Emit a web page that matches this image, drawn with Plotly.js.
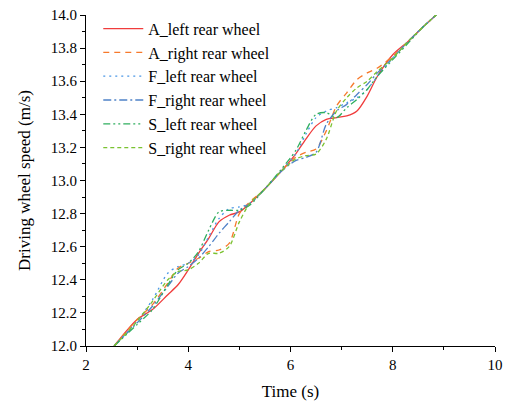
<!DOCTYPE html>
<html>
<head>
<meta charset="utf-8">
<script src="https://cdn.plot.ly/plotly-3.0.1.min.js"></script>
<style>html,body{margin:0;padding:0;background:#fff;}#chart{width:507px;height:404px;}</style>
</head>
<body>
<div id="chart"></div>
<script>
const time = [2.55, 3.0, 3.3, 3.6, 3.8, 4.0, 4.2, 4.4, 4.6, 4.8, 5.0, 5.2, 5.5, 5.8, 6.1, 6.3, 6.5, 6.7, 6.9, 7.1, 7.3, 7.5, 7.7, 8.0, 8.3, 8.6, 8.85];
const seriesNames = ["A_left rear wheel", "A_right rear wheel", "F_left rear wheel", "F_right rear wheel", "S_left rear wheel", "S_right rear wheel"];
const aLeft  = [12.00, 12.16, 12.22, 12.31, 12.37, 12.46, 12.56, 12.65, 12.75, 12.79, 12.81, 12.86, 12.95, 13.05, 13.16, 13.25, 13.33, 13.37, 13.38, 13.39, 13.42, 13.51, 13.63, 13.76, 13.84, 13.93, 14.00];
const aRight = [12.00, 12.16, 12.25, 12.38, 12.47, 12.50, 12.53, 12.57, 12.58, 12.62, 12.80, 12.87, 12.95, 13.05, 13.14, 13.17, 13.19, 13.30, 13.45, 13.53, 13.61, 13.65, 13.68, 13.75, 13.84, 13.93, 14.00];
const fLeft  = [12.00, 12.15, 12.28, 12.44, 12.48, 12.50, 12.55, 12.66, 12.77, 12.83, 12.84, 12.86, 12.95, 13.05, 13.16, 13.28, 13.38, 13.42, 13.44, 13.47, 13.50, 13.55, 13.63, 13.74, 13.84, 13.93, 14.00];
const fRight = [12.00, 12.14, 12.24, 12.36, 12.44, 12.48, 12.53, 12.60, 12.68, 12.75, 12.82, 12.86, 12.95, 13.05, 13.12, 13.14, 13.17, 13.34, 13.42, 13.46, 13.52, 13.58, 13.65, 13.74, 13.84, 13.93, 14.00];
const sLeft  = [12.00, 12.13, 12.22, 12.37, 12.46, 12.50, 12.57, 12.70, 12.81, 12.82, 12.82, 12.85, 12.95, 13.06, 13.18, 13.30, 13.40, 13.41, 13.38, 13.44, 13.49, 13.55, 13.63, 13.73, 13.83, 13.93, 14.00];
const sRight = [12.00, 12.15, 12.27, 12.40, 12.45, 12.46, 12.50, 12.56, 12.56, 12.60, 12.75, 12.86, 12.95, 13.05, 13.13, 13.15, 13.16, 13.25, 13.42, 13.50, 13.56, 13.60, 13.66, 13.74, 13.84, 13.93, 14.00];
const xTicks = [2, 4, 6, 8, 10];
const yTicks = [12.0, 12.2, 12.4, 12.6, 12.8, 13.0, 13.2, 13.4, 13.6, 13.8, 14.0];

const values = [aLeft, aRight, fLeft, fRight, sLeft, sRight];
const colors = ["#f03c3c", "#f7792b", "#4a97e6", "#4f82c8", "#2fae5e", "#7ac231"];
const dashes = ["solid", "6px,5px", "2px,4px", "8px,3px,2px,3px", "7px,3px,2px,3px,2px,3px", "4px,3px"];

const traces = values.map((v, i) => ({
  x: time, y: v, type: "scatter", mode: "lines", name: seriesNames[i],
  line: {color: colors[i], width: 1.3, dash: dashes[i], shape: "spline", smoothing: 0.8}
}));

const layout = {
  width: 507, height: 404,
  margin: {l: 86, r: 12, t: 15, b: 58},
  paper_bgcolor: "#fff", plot_bgcolor: "#fff",
  font: {family: "Liberation Serif, Times New Roman, serif", size: 15, color: "#000"},
  showlegend: true,
  legend: {x: 0.03, y: 1.01, xanchor: "left", yanchor: "top", bgcolor: "rgba(0,0,0,0)",
           font: {family: "Liberation Serif, serif", size: 16, color: "#000"},
           itemwidth: 40, tracegroupgap: 0},
  xaxis: {
    range: [2, 10], tickvals: xTicks, ticktext: xTicks.map(String),
    showgrid: false, zeroline: false, showline: true, linecolor: "#000", linewidth: 1,
    ticks: "outside", ticklen: 5, tickcolor: "#000",
    minor: {dtick: 1, tick0: 2, ticks: "outside", ticklen: 3, tickcolor: "#000", showgrid: false},
    tickfont: {size: 15},
    title: {text: "Time (s)", font: {size: 17}, standoff: 13}
  },
  yaxis: {
    range: [12, 14], tickvals: yTicks, ticktext: yTicks.map(v => v.toFixed(1)),
    showgrid: false, zeroline: false, showline: true, linecolor: "#000", linewidth: 1,
    ticks: "outside", ticklen: 5, tickcolor: "#000",
    minor: {dtick: 0.1, tick0: 12, ticks: "outside", ticklen: 3, tickcolor: "#000", showgrid: false},
    tickfont: {size: 15},
    title: {text: "Driving wheel speed (m/s)", font: {size: 17}, standoff: 15}
  }
};

Plotly.newPlot("chart", traces, layout, {displayModeBar: false, staticPlot: true});
</script>
</body>
</html>
